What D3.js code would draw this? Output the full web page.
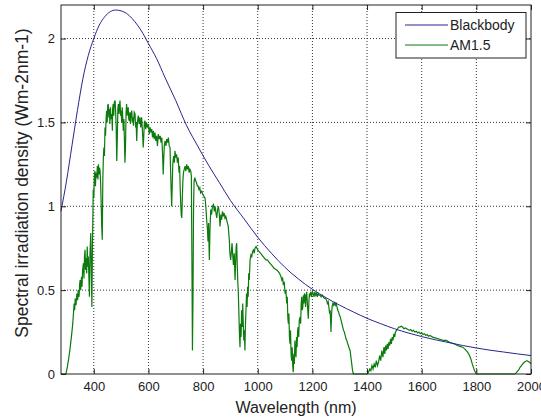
<!DOCTYPE html>
<html>
<head>
<meta charset="utf-8">
<script src="https://cdn.jsdelivr.net/npm/d3@7"></script>
<style>
  body { margin: 0; background: #fff; }
  svg { font-family: "Liberation Sans", Arial, sans-serif; }
</style>
</head>
<body>
<svg id="chart" width="541" height="419"></svg>
<script>
// Tick labels
const xTicks = [400, 600, 800, 1000, 1200, 1400, 1600, 1800, 2000];
const yTicks = [0, 0.5, 1, 1.5, 2];
const seriesNames = ["Blackbody", "AM1.5"];

// Blackbody curve [wavelength nm, value]
const blackbody = [
  [280, 0.97], [300, 1.15], [320, 1.36], [340, 1.57], [360, 1.76], [380, 1.90],
  [400, 2.0], [420, 2.08], [440, 2.13], [460, 2.16], [480, 2.17], [500, 2.165],
  [520, 2.15], [540, 2.12], [560, 2.08], [580, 2.03], [600, 1.97], [630, 1.88],
  [660, 1.77], [700, 1.63], [740, 1.48], [780, 1.36], [820, 1.245], [860, 1.14],
  [900, 1.035], [950, 0.925], [1000, 0.815], [1050, 0.72], [1100, 0.635],
  [1150, 0.565], [1200, 0.505], [1250, 0.455], [1300, 0.41], [1350, 0.37],
  [1400, 0.332], [1450, 0.30], [1500, 0.27], [1550, 0.245], [1600, 0.223],
  [1650, 0.204], [1700, 0.187], [1750, 0.17], [1800, 0.155], [1850, 0.142],
  [1900, 0.131], [1950, 0.12], [2000, 0.11]
];

// AM1.5 spectrum [wavelength nm, value]
const am15 = [
  [280,0],[290,0],[298,0],[303,0.04],[308,0.09],[313,0.15],[318,0.22],[323,0.30],[326,0.37],[328,0.42],
  [330,0.38],[332,0.45],[335,0.41],[338,0.48],[341,0.44],[343,0.50],[346,0.46],[348,0.53],[350,0.56],[352,0.50],
  [355,0.58],[357,0.52],[359,0.62],[362,0.66],[364,0.57],[366,0.70],[368,0.74],[370,0.62],[372,0.69],[374,0.60],
  [376,0.76],[378,0.64],[380,0.70],[382,0.58],[384,0.46],[386,0.72],[388,0.80],[389,0.84],[391,0.60],[393,0.40],
  [395,0.75],[397,0.98],[398,1.10],[400,1.05],[402,1.18],[404,1.21],[406,1.12],[408,1.20],[411,1.17],[413,1.24],
  [415,1.16],[417,1.25],[419,1.19],[421,1.23],[423,1.21],[425,1.14],[427,1.02],[429,0.88],[431,0.80],[433,1.15],
  [435,1.29],[437,1.35],[439,1.30],[441,1.47],[443,1.42],[445,1.52],[447,1.57],[449,1.50],[451,1.60],[453,1.61],
  [455,1.53],[457,1.58],[459,1.49],[461,1.59],[463,1.52],[466,1.55],[468,1.45],[469,1.58],[471,1.61],[473,1.54],
  [475,1.62],[478,1.63],[480,1.56],[482,1.47],[484,1.27],[486,1.40],[488,1.58],[490,1.61],[492,1.55],[494,1.60],
  [496,1.63],[498,1.54],[500,1.57],[502,1.50],[504,1.59],[506,1.53],[508,1.45],[510,1.52],[512,1.40],[514,1.26],
  [516,1.35],[518,1.55],[520,1.61],[522,1.54],[524,1.58],[526,1.59],[528,1.52],[530,1.51],[532,1.56],[534,1.49],
  [536,1.55],[539,1.57],[541,1.50],[543,1.53],[545,1.48],[548,1.56],[551,1.55],[553,1.47],[555,1.50],[557,1.39],
  [559,1.48],[561,1.52],[563,1.54],[566,1.49],[569,1.53],[572,1.47],[575,1.53],[578,1.45],[581,1.35],[583,1.42],
  [585,1.50],[587,1.51],[590,1.46],[593,1.50],[596,1.47],[600,1.49],[603,1.43],[606,1.47],[609,1.44],[612,1.46],
  [615,1.41],[618,1.45],[621,1.40],[624,1.44],[627,1.39],[630,1.42],[633,1.36],[636,1.43],[640,1.40],[643,1.42],
  [646,1.38],[649,1.41],[652,1.30],[654,1.19],[656,1.28],[658,1.36],[661,1.39],[664,1.36],[667,1.40],[670,1.38],
  [673,1.41],[676,1.36],[679,1.35],[681,1.22],[683,1.10],[685,1.00],[687,1.12],[689,1.25],[692,1.30],[695,1.26],
  [697,1.33],[700,1.29],[703,1.31],[706,1.26],[709,1.29],[712,1.20],[714,1.24],[716,1.12],[718,1.02],[720,0.95],
  [722,0.93],[724,1.05],[726,1.15],[728,1.20],[731,1.22],[734,1.24],[737,1.21],[740,1.25],[743,1.22],[746,1.24],
  [749,1.20],[752,1.22],[755,1.21],[757,1.18],[759,0.70],[761,0.14],[763,0.45],[765,0.98],[767,1.15],[770,1.17],
  [773,1.15],[776,1.14],[779,1.12],[782,1.12],[785,1.10],[788,1.11],[791,1.08],[795,1.09],[799,1.07],[803,1.06],
  [807,1.05],[810,1.00],[813,0.92],[816,0.86],[818,0.79],[820,0.90],[822,0.74],[823,0.68],[825,0.85],[828,0.98],
  [831,0.95],[834,1.00],[838,1.01],[841,0.97],[844,1.00],[847,0.96],[850,0.93],[853,0.98],[856,1.00],[859,0.96],
  [862,0.88],[865,0.95],[868,0.92],[871,0.97],[874,0.94],[877,0.96],[880,0.93],[883,0.94],[886,0.92],[889,0.90],
  [892,0.88],[894,0.84],[896,0.80],[898,0.72],[901,0.68],[904,0.74],[906,0.78],[908,0.72],[911,0.65],[914,0.72],
  [917,0.56],[919,0.66],[921,0.76],[923,0.78],[925,0.65],[927,0.55],[929,0.48],[931,0.36],[933,0.24],[935,0.16],
  [937,0.30],[939,0.22],[941,0.38],[943,0.28],[945,0.42],[947,0.30],[949,0.20],[951,0.26],[953,0.14],[955,0.30],
  [957,0.38],[959,0.48],[961,0.40],[963,0.52],[965,0.46],[967,0.60],[969,0.56],[972,0.68],[975,0.71],[978,0.70],
  [981,0.73],[984,0.74],[987,0.72],[990,0.75],[994,0.76],[997,0.75],[1000,0.74],[1005,0.73],[1010,0.72],[1015,0.71],
  [1020,0.70],[1025,0.69],[1030,0.68],[1035,0.68],[1040,0.67],[1045,0.66],[1050,0.65],[1055,0.64],[1060,0.63],[1065,0.625],
  [1070,0.62],[1075,0.61],[1080,0.60],[1085,0.58],[1088,0.56],[1091,0.57],[1094,0.53],[1097,0.55],[1100,0.48],[1103,0.50],
  [1106,0.42],[1108,0.46],[1110,0.34],[1112,0.30],[1114,0.36],[1116,0.22],[1118,0.18],[1120,0.26],[1122,0.12],[1124,0.08],
  [1126,0.16],[1128,0.05],[1130,0.01],[1132,0.12],[1134,0.06],[1136,0.20],[1138,0.14],[1140,0.10],[1142,0.22],[1144,0.16],
  [1146,0.26],[1148,0.28],[1150,0.22],[1152,0.32],[1155,0.34],[1157,0.30],[1159,0.42],[1161,0.46],[1163,0.38],[1165,0.40],
  [1167,0.47],[1169,0.42],[1171,0.48],[1173,0.47],[1175,0.40],[1177,0.46],[1179,0.49],[1181,0.44],[1183,0.38],[1185,0.33],
  [1187,0.42],[1189,0.48],[1191,0.47],[1194,0.49],[1197,0.46],[1200,0.49],[1203,0.48],[1206,0.46],[1209,0.49],[1212,0.47],
  [1215,0.48],[1218,0.46],[1221,0.48],[1224,0.47],[1228,0.47],[1232,0.46],[1236,0.47],[1240,0.46],[1244,0.45],[1248,0.45],
  [1252,0.44],[1255,0.42],[1258,0.43],[1261,0.39],[1263,0.36],[1265,0.38],[1267,0.30],[1268,0.25],[1270,0.35],[1272,0.40],
  [1275,0.42],[1278,0.41],[1281,0.43],[1284,0.41],[1287,0.42],[1290,0.40],[1293,0.38],[1296,0.37],[1299,0.35],[1302,0.34],
  [1305,0.32],[1308,0.30],[1311,0.28],[1314,0.26],[1317,0.25],[1320,0.23],[1323,0.21],[1326,0.20],[1329,0.18],[1332,0.17],
  [1335,0.15],[1338,0.14],[1341,0.10],[1344,0.06],[1347,0.02],[1350,0],[1400,0],[1405,0.01],[1410,0.03],[1414,0.02],
  [1418,0.05],[1422,0.03],[1426,0.06],[1430,0.04],[1434,0.08],[1438,0.05],[1442,0.07],[1446,0.11],[1450,0.08],[1454,0.14],
  [1458,0.10],[1462,0.16],[1465,0.12],[1468,0.17],[1471,0.14],[1474,0.18],[1477,0.15],[1480,0.19],[1483,0.17],[1486,0.21],
  [1489,0.18],[1492,0.22],[1495,0.20],[1498,0.24],[1501,0.22],[1504,0.25],[1508,0.26],[1512,0.27],[1516,0.28],[1520,0.28],
  [1525,0.285],[1530,0.28],[1535,0.27],[1540,0.275],[1545,0.27],[1550,0.265],[1555,0.26],[1560,0.265],[1565,0.255],[1570,0.26],
  [1575,0.25],[1580,0.255],[1585,0.245],[1590,0.25],[1595,0.24],[1600,0.245],[1605,0.235],[1610,0.24],[1615,0.23],[1620,0.235],
  [1625,0.225],[1630,0.23],[1640,0.22],[1650,0.215],[1660,0.21],[1670,0.205],[1680,0.20],[1690,0.20],[1700,0.19],[1710,0.185],
  [1720,0.18],[1730,0.17],[1740,0.165],[1750,0.16],[1760,0.145],[1768,0.13],[1775,0.11],[1780,0.09],[1785,0.06],[1790,0.035],
  [1795,0.015],[1800,0],[1940,0],[1945,0.005],[1950,0.015],[1955,0.025],[1960,0.04],[1965,0.05],[1970,0.06],[1975,0.07],
  [1980,0.075],[1985,0.08],[1990,0.075],[1995,0.07],[2000,0.06]
];

const MARGIN = { left: 61, top: 5, right: 10, bottom: 45 };
const svg = d3.select("#chart");
const width = +svg.attr("width") - MARGIN.left - MARGIN.right;
const height = +svg.attr("height") - MARGIN.top - MARGIN.bottom;

const xScale = d3.scaleLinear().domain([280, 2000]).range([0, width]);
const yScale = d3.scaleLinear().domain([0, 2.2]).range([height, 0]);

const plot = svg.append("g")
  .attr("transform", `translate(${MARGIN.left},${MARGIN.top})`);

// dotted grid
plot.append("g").selectAll("line")
  .data(xTicks.slice(0, -1))
  .join("line")
  .attr("x1", d => xScale(d)).attr("x2", d => xScale(d))
  .attr("y1", 0).attr("y2", height)
  .attr("stroke", "#333").attr("stroke-dasharray", "1,2");
plot.append("g").selectAll("line")
  .data(yTicks.slice(1))
  .join("line")
  .attr("x1", 0).attr("x2", width)
  .attr("y1", d => yScale(d)).attr("y2", d => yScale(d))
  .attr("stroke", "#333").attr("stroke-dasharray", "1,2");

// curves
const line = d3.line().x(d => xScale(d[0])).y(d => yScale(d[1]));

plot.append("path")
  .datum(am15)
  .attr("fill", "none")
  .attr("stroke", "#0c7a0c")
  .attr("stroke-width", 1.2)
  .attr("d", line);

plot.append("path")
  .datum(blackbody)
  .attr("fill", "none")
  .attr("stroke", "#26268c")
  .attr("stroke-width", 1)
  .attr("d", line.curve(d3.curveMonotoneX));

// axes, ticks pointing inward on all four sides
const plainFormat = d => String(d);
plot.append("g")
  .attr("transform", `translate(0,${height})`)
  .call(d3.axisBottom(xScale).tickValues(xTicks).tickFormat(plainFormat)
    .tickSize(-5).tickSizeOuter(0).tickPadding(8));
plot.append("g")
  .call(d3.axisTop(xScale).tickValues(xTicks).tickSize(-5).tickSizeOuter(0).tickFormat(""));
plot.append("g")
  .call(d3.axisLeft(yScale).tickValues(yTicks).tickFormat(plainFormat)
    .tickSize(-5).tickSizeOuter(0).tickPadding(6));
plot.append("g")
  .attr("transform", `translate(${width},0)`)
  .call(d3.axisRight(yScale).tickValues(yTicks).tickSize(-5).tickSizeOuter(0).tickFormat(""));

plot.selectAll(".domain").remove();
plot.selectAll(".tick line").attr("stroke", "#222");
plot.selectAll(".tick text")
  .style("font-family", "'Liberation Sans', Arial, sans-serif")
  .style("font-size", "13px")
  .attr("fill", "#222");

// frame
plot.append("rect")
  .attr("width", width).attr("height", height)
  .attr("fill", "none").attr("stroke", "#222");

// axis labels
svg.append("text")
  .attr("x", MARGIN.left + width / 2)
  .attr("y", 413)
  .attr("text-anchor", "middle")
  .style("font-size", "16px")
  .attr("fill", "#222")
  .text("Wavelength (nm)");

svg.append("text")
  .attr("transform", "translate(22,183) rotate(-90)")
  .attr("dy", "0.35em")
  .attr("text-anchor", "middle")
  .style("font-size", "17.5px")
  .attr("fill", "#222")
  .text("Spectral irradiation density (Wm-2nm-1)");

// legend
const legend = svg.append("g").attr("transform", "translate(396,12.5)");
legend.append("rect")
  .attr("width", 130).attr("height", 45.5)
  .attr("fill", "#fff").attr("stroke", "#222");
const colors = ["#26268c", "#0c7a0c"];
seriesNames.forEach((name, i) => {
  legend.append("line")
    .attr("x1", 9).attr("x2", 52)
    .attr("y1", 12.5 + i * 20).attr("y2", 12.5 + i * 20)
    .attr("stroke", colors[i]);
  legend.append("text")
    .attr("x", 54).attr("y", 12.5 + i * 20)
    .attr("dy", "0.35em")
    .style("font-size", "14px")
    .attr("fill", "#222")
    .text(name);
});
</script>
</body>
</html>
